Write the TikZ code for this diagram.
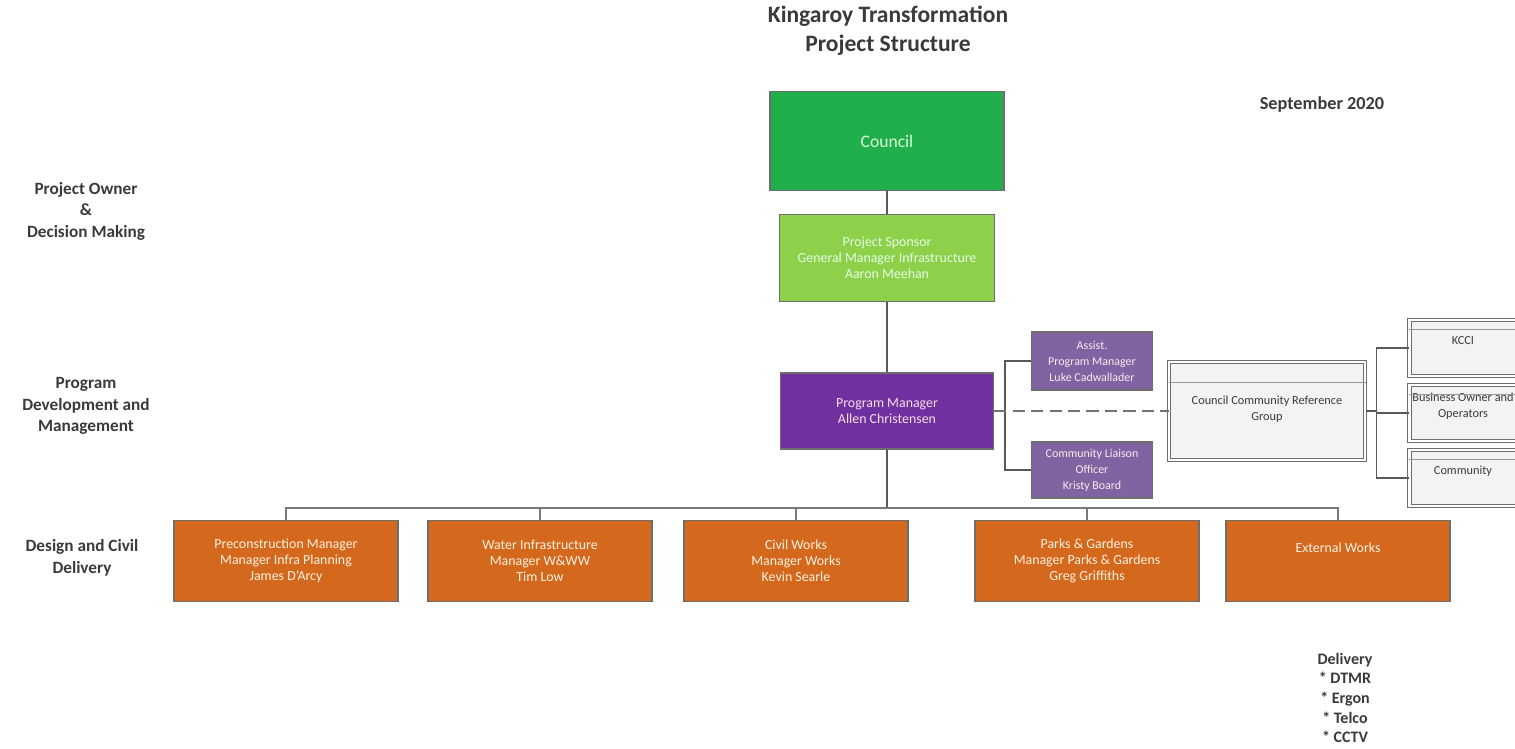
\documentclass[tikz,border=0pt]{standalone}
\usepackage{fontspec}
\setmainfont{Carlito}
\usetikzlibrary{calc,positioning}
\definecolor{chartink}{HTML}{3A3A3A}
\definecolor{chartline}{HTML}{595959}
\definecolor{chartedge}{HTML}{6E6E6E}
\definecolor{councilgreen}{HTML}{20AF4B}
\definecolor{sponsorgreen}{HTML}{8DD04A}
\definecolor{managerpurple}{HTML}{7030A0}
\definecolor{supportpurple}{HTML}{8064A2}
\definecolor{deliveryorange}{HTML}{D4691E}
\definecolor{groupfill}{HTML}{F3F3F3}
\tikzset{
  levellabel/.style={font=\fontsize{9.8}{12.2}\selectfont\bfseries, text=chartink, align=center},
  chartbox/.style={draw=chartedge, line width=.8pt, align=center,
    font=\fontsize{7.9}{9.1}\selectfont, text=white, inner sep=2pt},
  councilbox/.style={chartbox, fill=councilgreen, text=green!15!white,
    font=\fontsize{10}{12}\selectfont},
  sponsorbox/.style={chartbox, fill=sponsorgreen, text=white!90!green},
  managerbox/.style={chartbox, fill=managerpurple, text=white!88!purple},
  supportbox/.style={chartbox, fill=supportpurple, text=white!92!purple,
    font=\fontsize{6.8}{9.1}\selectfont},
  deliverybox/.style={chartbox, fill=deliveryorange, text=white!88!orange,
    minimum width=4.48cm, minimum height=1.62cm},
  groupbox/.style={draw=chartedge, double=white, double distance=1.2pt,
    line width=.6pt, fill=groupfill},
  grouptext/.style={font=\fontsize{7}{9.1}\selectfont, text=chartink, align=center},
  stripline/.style={draw=chartedge!70, line width=.5pt},
  link/.style={draw=chartline, line width=1.1pt},
  buslink/.style={draw=chartline!80, line width=.9pt},
  dashlink/.style={draw=chartline!85, line width=1.4pt, dash pattern=on 7pt off 3.5pt}
}
\begin{document}
\begin{tikzpicture}[x=0.02cm,y=-0.02cm]
  \useasboundingbox (0,0) rectangle (1515,749);
  \clip (0,0) rectangle (1515,749);

  % headings and level captions
  \node[font=\fontsize{13.4}{16.4}\selectfont\bfseries, text=chartink, align=center]
    (title) at (888,31) {Kingaroy Transformation\\Project Structure};
  \node[levellabel, font=\fontsize{10.4}{12.2}\selectfont\bfseries] (date) at (1322,105) {September 2020};
  \node[levellabel] (ownerlvl) at (86,211) {Project Owner\\\&\\Decision Making};
  \node[levellabel] (programlvl) at (86,406) {Program\\Development and\\Management};
  \node[levellabel] (designlvl) at (82,558) {Design and Civil\\Delivery};
  \node[levellabel, font=\fontsize{9.1}{11.2}\selectfont\bfseries]
    (deliverylist) at (1345,698) {Delivery\\* DTMR\\* Ergon\\* Telco\\* CCTV};

  % governance chain
  \node[councilbox, minimum width=4.68cm, minimum height=1.98cm] (council) at (887,141) {Council};
  \node[sponsorbox, minimum width=4.30cm, minimum height=1.74cm] (sponsor) at (887,258)
    {Project Sponsor\\General Manager Infrastructure\\Aaron Meehan};
  \node[managerbox, minimum width=4.26cm, minimum height=1.52cm] (pm) at (887,411)
    {Program Manager\\Allen Christensen};
  \node[supportbox, minimum width=2.42cm, minimum height=1.16cm] (assist) at (1092,361)
    {Assist.\\Program Manager\\Luke Cadwallader};
  \node[supportbox, minimum width=2.42cm, minimum height=1.12cm] (liaison) at (1092,470)
    {Community Liaison\\Officer\\Kristy Board};

  % community reference group
  \node[groupbox, minimum width=3.92cm, minimum height=1.96cm] (ccrg) at (1267,411) {};
  \node[grouptext, anchor=north] (ccrgtext) at ([yshift=-0.56cm]ccrg.north)
    {Council Community Reference\\Group};
  \node[groupbox, minimum width=2.3cm, minimum height=1.12cm] (kcci) at (1467,348) {};
  \node[grouptext] (kccitext) at (1463,341) {KCCI};
  \node[groupbox, minimum width=2.3cm, minimum height=1.12cm] (business) at (1467,413) {};
  \node[grouptext] (businesstext) at (1463,406) {Business Owner and\\Operators};
  \node[groupbox, minimum width=2.3cm, minimum height=1.12cm] (community) at (1467,478) {};
  \node[grouptext] (communitytext) at (1463,471) {Community};
  \draw[stripline] ([yshift=-0.42cm]ccrg.north west) -- ([yshift=-0.42cm]ccrg.north east);
  \foreach \grp in {kcci,business,community}
    \draw[stripline] ([yshift=-0.2cm]\grp.north west) -- ([yshift=-0.2cm]\grp.north east);

  % delivery teams
  \node[deliverybox] (precon) at (286,561)
    {Preconstruction Manager\\Manager Infra Planning\\James D'Arcy};
  \node[deliverybox] (water) at (540,561)
    {Water Infrastructure\\Manager W\&WW\\Tim Low};
  \node[deliverybox] (civil) at (796,561)
    {Civil Works\\Manager Works\\Kevin Searle};
  \node[deliverybox] (parks) at (1087,561)
    {Parks \& Gardens\\Manager Parks \& Gardens\\Greg Griffiths};
  \node[deliverybox] (external) at (1338,561) {External Works\\[6pt]};

  % connectors
  \draw[link] (council) -- (sponsor);
  \draw[link] (sponsor) -- (pm);
  \draw[link] (pm.east) -- ++(11,0) coordinate (pmfork) |- (assist.west);
  \draw[link] (pmfork) |- (liaison.west);
  \draw[dashlink] (pm.east) -- (ccrg.west);
  \draw[link] (ccrg.east) -- ++(11,0) coordinate (ccrgfork) |- (kcci.west);
  \draw[link] (ccrgfork) |- (business.west);
  \draw[link] (ccrgfork) |- (community.west);
  \coordinate (bus) at (887,508);
  \draw[link] (pm.south) -- (bus);
  \foreach \team in {precon,water,civil,parks,external}
    \draw[buslink] (bus) -| (\team.north);
\end{tikzpicture}
\end{document}
